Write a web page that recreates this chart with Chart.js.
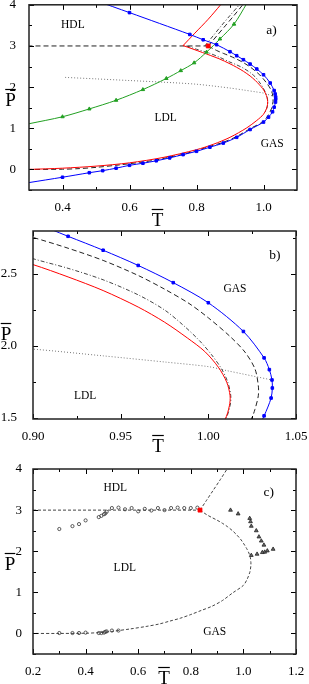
<!DOCTYPE html>
<html>
<head>
<meta charset="utf-8">
<script src="https://cdn.jsdelivr.net/npm/chart.js@4.4.1/dist/chart.umd.min.js"></script>
<style>
  body { margin: 0; background: #fff; width: 309px; height: 684px; position: relative; overflow: hidden; }
  canvas { position: absolute; left: 0; }
</style>
</head>
<body>
<canvas id="chartA" width="309" height="230" style="top:0px"></canvas>
<canvas id="chartB" width="309" height="230" style="top:225px"></canvas>
<canvas id="chartC" width="309" height="229" style="top:455px"></canvas>
<script>
// ── curves shared by panels a) and b) ─────────────
const blueT = [0.30, 0.40, 0.48, 0.52, 0.56, 0.60, 0.64, 0.68, 0.72, 0.76, 0.80, 0.84, 0.88, 0.92, 0.96, 1.00, 1.015, 1.027,
               1.0318, 1.0358, 1.0365, 1.0363, 1.0348, 1.0318, 1.02, 1.00, 0.98, 0.96, 0.94, 0.92, 0.90, 0.86, 0.82, 0.78, 0.60, 0.50];
const blueP = [-0.32, -0.19, -0.08, -0.03, 0.03, 0.10, 0.15, 0.21, 0.28, 0.36, 0.44, 0.54, 0.64, 0.78, 0.97, 1.15, 1.27, 1.40,
               1.512, 1.636, 1.706, 1.762, 1.834, 1.916, 2.10, 2.30, 2.44, 2.56, 2.666, 2.763, 2.86, 3.03, 3.15, 3.28, 3.81, 4.10];

const redLowT = [0.30, 0.40, 0.50, 0.60, 0.70, 0.80, 0.85, 0.90, 0.95, 0.98, 1.00, 1.0095, 1.012, 1.0124, 1.0105, 1.0057,
                 0.998, 0.988, 0.975, 0.96, 0.94, 0.92, 0.90, 0.867, 0.818, 0.76];
const redLowP = [0.00, 0.03, 0.08, 0.16, 0.29, 0.48, 0.61, 0.78, 1.01, 1.19, 1.34, 1.488, 1.582, 1.652, 1.746, 1.851,
                 1.96, 2.055, 2.165, 2.27, 2.385, 2.48, 2.566, 2.69, 2.84, 3.01];
const redUpT = [0.76, 0.795, 0.835, 0.872, 0.88];
const redUpP = [3.01, 3.31, 3.65, 4.00, 4.08];

const greenT = [0.30, 0.40, 0.48, 0.56, 0.64, 0.71, 0.753, 0.793, 0.83, 0.87, 0.912, 0.95];
const greenP = [1.11, 1.28, 1.47, 1.68, 1.94, 2.21, 2.40, 2.59, 2.85, 3.17, 3.53, 4.03];

const dashHT = [0.20, 0.835];
const dashHP = [3.00, 3.00];
const dashUpT = [0.835, 0.86, 0.886, 0.912, 0.938, 0.942];
const dashUpP = [3.00, 3.24, 3.49, 3.74, 4.00, 4.04];
const dashLowT = [0.835, 0.86, 0.88, 0.90, 0.92, 0.94, 0.96, 0.975, 0.989, 1.00, 1.0124, 1.0209, 1.0266, 1.0285, 1.0285,
                  1.0266, 1.0244, 1.015, 1.00, 0.96, 0.92, 0.88, 0.84, 0.80, 0.76, 0.72, 0.68, 0.63, 0.57, 0.50, 0.45, 0.40, 0.30, 0.20];
const dashLowP = [3.00, 2.89, 2.82, 2.755, 2.68, 2.595, 2.49, 2.395, 2.295, 2.195, 2.065, 1.956, 1.839, 1.722, 1.652,
                  1.558, 1.488, 1.33, 1.17, 0.99, 0.80, 0.66, 0.56, 0.46, 0.37, 0.30, 0.23, 0.17, 0.11, 0.05, 0.02, 0.005, 0.00, 0.00];

const ddUpT = [0.825, 0.85, 0.875, 0.90, 0.928, 0.932];
const ddUpP = [3.00, 3.25, 3.50, 3.74, 4.00, 4.04];
const ddLowT = [0.77, 0.80, 0.84, 0.87, 0.90, 0.92, 0.94, 0.96, 0.975, 0.986, 0.995, 1.0017, 1.0075, 1.011, 1.0128, 1.0124, 1.0099, 1.003];
const ddLowP = [3.00, 2.92, 2.82, 2.72, 2.607, 2.54, 2.46, 2.355, 2.25, 2.14, 2.035, 1.94, 1.84, 1.75, 1.652, 1.582, 1.488, 1.36];

const dotT = [0.408, 0.50, 0.60, 0.70, 0.80, 0.90, 0.94, 0.976, 1.00, 1.0105, 1.0363];
const dotP = [2.236, 2.20, 2.16, 2.12, 2.07, 1.977, 1.93, 1.886, 1.855, 1.827, 1.762];

const tripleT = [0.835];
const tripleP = [3.00];

// ── panel c) simulation points ─────────────
const circUpT = [0.30, 0.35, 0.375, 0.40, 0.45, 0.46, 0.47, 0.475, 0.48, 0.50, 0.525, 0.55, 0.575, 0.60, 0.625, 0.65,
                 0.675, 0.70, 0.725, 0.75, 0.775, 0.80, 0.825];
const circUpP = [2.54, 2.61, 2.66, 2.75, 2.83, 2.86, 2.90, 2.92, 2.96, 3.05, 3.06, 3.02, 3.05, 2.97, 3.03, 2.99,
                 3.05, 3.00, 3.05, 3.06, 3.05, 3.05, 3.06];
const circLowT = [0.30, 0.35, 0.375, 0.40, 0.45, 0.46, 0.47, 0.475, 0.48, 0.50, 0.525];
const circLowP = [0.01, 0.01, 0.01, 0.02, 0.01, 0.01, 0.02, 0.04, 0.05, 0.07, 0.07];
const triT = [0.951, 0.98, 1.024, 1.027, 1.030, 1.049, 1.059, 1.068, 1.078, 1.113, 1.091, 1.081, 1.072, 1.052, 1.030];
const triP = [3.00, 2.91, 2.80, 2.72, 2.61, 2.50, 2.35, 2.25, 2.15, 2.05, 2.01, 1.98, 1.97, 1.93, 1.90];

// ── ticks ─────────────
const xTicksA = [0.4, 0.6, 0.8, 1.0];
const xMinorA = [0.5, 0.7, 0.9];
const yTicksA = [0, 1, 2, 3, 4];
const yMinorA = [-0.5, 0.5, 1.5, 2.5, 3.5];
const xTicksB = [0.90, 0.95, 1.00, 1.05];
const xMinorB = [0.925, 0.975, 1.025];
const yTicksB = [1.5, 2.0, 2.5];
const yMinorB = [1.75, 2.25, 2.75];
const xTicksC = [0.2, 0.4, 0.6, 0.8, 1.0, 1.2];
const xMinorC = [0.3, 0.5, 0.7, 0.9, 1.1];
const yTicksC = [0, 1, 2, 3, 4];
const yMinorC = [-0.5, 0.5, 1.5, 2.5, 3.5];

Chart.defaults.font.family = '"Liberation Serif", "Times New Roman", serif';
Chart.defaults.color = '#000';

const pts = (T, P) => T.map((t, i) => ({ x: t, y: P[i] }));
const innerOnly = (n, r) => c => (c.dataIndex === 0 || c.dataIndex === n - 1) ? 0 : r;

function curve(T, P, color, extra) {
    return Object.assign({
        data: pts(T, P), showLine: true, borderColor: color, backgroundColor: color,
        borderWidth: 1, pointRadius: 0, tension: 0.3, fill: false
    }, extra || {});
}
function marks(T, P, style, r, bg, border) {
    return { data: pts(T, P), showLine: false, pointStyle: style, pointRadius: r,
             backgroundColor: bg, borderColor: border, borderWidth: 0.8 };
}

// inward ticks on all sides, frame, text notes and barred axis letters
const framePlugin = {
    id: 'frame',
    afterDatasetsDraw(chart, args, o) {
        const { ctx, chartArea: a } = chart;
        const sx = chart.scales.x, sy = chart.scales.y;
        ctx.save();
        ctx.strokeStyle = '#000';
        ctx.lineWidth = 1;
        ctx.beginPath();
        const tx = (vals, len) => vals.forEach(v => {
            const p = Math.round(sx.getPixelForValue(v)) + 0.5;
            ctx.moveTo(p, a.bottom); ctx.lineTo(p, a.bottom - len);
            ctx.moveTo(p, a.top); ctx.lineTo(p, a.top + len);
        });
        const ty = (vals, len) => vals.forEach(v => {
            const p = Math.round(sy.getPixelForValue(v)) + 0.5;
            ctx.moveTo(a.left, p); ctx.lineTo(a.left + len, p);
            ctx.moveTo(a.right, p); ctx.lineTo(a.right - len, p);
        });
        tx(o.xMajor, 5); tx(o.xMinor, 3); ty(o.yMajor, 5); ty(o.yMinor, 3);
        ctx.stroke();
        ctx.lineWidth = 1.5;
        ctx.strokeStyle = '#222';
        ctx.strokeRect(a.left, a.top, a.right - a.left, a.bottom - a.top);

        ctx.fillStyle = '#000';
        ctx.textAlign = 'center';
        ctx.textBaseline = 'middle';
        o.notes.forEach(n => {
            ctx.font = (n.size || 11.5) + 'px "Liberation Serif"';
            ctx.fillText(n.text, sx.getPixelForValue(n.x), sy.getPixelForValue(n.y));
        });
        ctx.font = '19px "Liberation Serif"';
        ctx.textBaseline = 'alphabetic';
        ctx.strokeStyle = '#000';
        ctx.lineWidth = 1.2;
        o.titles.forEach(t => {
            ctx.fillText(t.text, t.x, t.y);
            const w = ctx.measureText(t.text).width;
            ctx.beginPath();
            ctx.moveTo(t.x - w / 2, t.y - 16.5);
            ctx.lineTo(t.x + w / 2, t.y - 16.5);
            ctx.stroke();
        });
        ctx.restore();
    }
};

function axis(min, max, ticks, digits, pad, size, horizontal) {
    return {
        type: 'linear', min: min, max: max,
        grid: { display: false },
        border: { display: false },
        ticks: { padding: pad, autoSkip: false, maxRotation: 0, font: { size: 13 }, color: '#000',
                 callback: v => Number(v).toFixed(digits) },
        afterBuildTicks: s => { s.ticks = ticks.map(v => ({ value: v })); },
        afterFit: s => {
            if (horizontal) { s.height = size; s.paddingLeft = 0; s.paddingRight = 0; }
            else { s.width = size; s.paddingTop = 0; s.paddingBottom = 0; }
        }
    };
}

function panel(id, datasets, scales, padding, frame) {
    return new Chart(document.getElementById(id), {
        type: 'scatter',
        data: { datasets: datasets },
        options: {
            responsive: false, animation: false, events: [],
            layout: { padding: padding },
            plugins: { legend: { display: false }, tooltip: { enabled: false }, frame: frame },
            scales: scales
        },
        plugins: [framePlugin]
    });
}

const BLUE = '#0000ff', RED = '#ff0000', GREEN = '#22a022';

// ── a) ─────────────
panel('chartA', [
    marks(tripleT, tripleP, 'rect', 2.8, RED, RED),
    curve(blueT, blueP, BLUE, { pointRadius: innerOnly(blueT.length, 1.8), pointStyle: 'rect' }),
    curve(greenT, greenP, GREEN, { pointRadius: innerOnly(greenT.length, 2.0), pointStyle: 'triangle' }),
    curve(redLowT, redLowP, RED),
    curve(redUpT, redUpP, RED),
    curve(dashHT, dashHP, '#222', { borderDash: [5, 3], tension: 0 }),
    curve(dashUpT, dashUpP, '#222', { borderDash: [5, 3] }),
    curve(dashLowT, dashLowP, '#222', { borderDash: [5, 3] }),
    curve(ddUpT, ddUpP, '#444', { borderDash: [4, 2, 1, 2] }),
    curve(ddLowT, ddLowP, '#444', { borderDash: [4, 2, 1, 2] }),
    curve(dotT, dotP, '#777', { borderDash: [1, 2] })
], {
    x: axis(0.3, 1.1, xTicksA, 1, 1.5, 40, true),
    y: axis(-0.5, 4, yTicksA, 0, 5, 29, false)
}, { left: 0, right: 12, top: 4.5, bottom: 0 }, {
    xMajor: xTicksA, xMinor: xMinorA, yMajor: yTicksA, yMinor: yMinorA,
    notes: [
        { text: 'HDL', x: 0.431, y: 3.505 },
        { text: 'LDL', x: 0.708, y: 1.24 },
        { text: 'GAS', x: 1.026, y: 0.61 },
        { text: 'a)', x: 1.024, y: 3.37, size: 13.5 }
    ],
    titles: [{ text: 'P', x: 10.5, y: 106 }, { text: 'T', x: 157.5, y: 226 }]
});

// ── b) ─────────────
panel('chartB', [
    curve(blueT, blueP, BLUE, { pointRadius: innerOnly(blueT.length, 1.8), pointStyle: 'rect' }),
    curve(redLowT, redLowP, RED),
    curve(dashLowT, dashLowP, '#222', { borderDash: [5, 3] }),
    curve(ddLowT, ddLowP, '#444', { borderDash: [4, 2, 1, 2] }),
    curve(dotT, dotP, '#777', { borderDash: [1, 2] })
], {
    x: axis(0.9, 1.05, xTicksB, 2, 2, 36, true),
    y: axis(1.49, 2.8, yTicksB, 1, 8, 33, false)
}, { left: 0, right: 13, top: 6, bottom: 0 }, {
    xMajor: xTicksB, xMinor: xMinorB, yMajor: yTicksB, yMinor: yMinorB,
    notes: [
        { text: 'GAS', x: 1.0152, y: 2.394 },
        { text: 'LDL', x: 0.9297, y: 1.648 },
        { text: 'b)', x: 1.038, y: 2.63, size: 13.5 }
    ],
    titles: [{ text: 'P', x: 6, y: 115 }, { text: 'T', x: 158, y: 227 }]
});

// ── c) ─────────────
panel('chartC', [
    marks(tripleT, tripleP, 'rect', 2.8, RED, RED),
    marks(circUpT, circUpP, 'circle', 1.6, 'rgba(255,255,255,0)', '#333'),
    marks(circLowT, circLowP, 'circle', 1.6, 'rgba(255,255,255,0)', '#333'),
    marks(triT, triP, 'triangle', 2.2, '#666', '#222'),
    curve(dashHT, dashHP, '#444', { borderDash: [3, 2], tension: 0 }),
    curve(dashUpT, dashUpP, '#444', { borderDash: [3, 2] }),
    curve(dashLowT, dashLowP, '#444', { borderDash: [3, 2] })
], {
    x: axis(0.2, 1.2, xTicksC, 1, 1.5, 30, true),
    y: axis(-0.5, 4, yTicksC, 0, 3, 33, false)
}, { left: 0, right: 13, top: 14, bottom: 0 }, {
    xMajor: xTicksC, xMinor: xMinorC, yMajor: yTicksC, yMinor: yMinorC,
    notes: [
        { text: 'HDL', x: 0.513, y: 3.54 },
        { text: 'LDL', x: 0.549, y: 1.59 },
        { text: 'GAS', x: 0.891, y: 0.04 },
        { text: 'c)', x: 1.096, y: 3.43, size: 13.5 }
    ],
    titles: [{ text: 'P', x: 10, y: 115 }, { text: 'T', x: 164, y: 229 }]
});
</script>
</body>
</html>
